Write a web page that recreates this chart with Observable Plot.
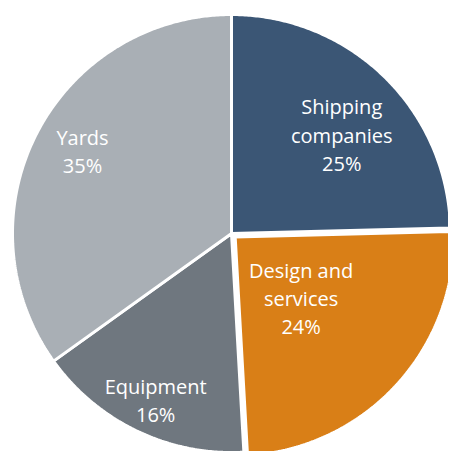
<!DOCTYPE html>
<html><head><meta charset="utf-8">
<script src="https://cdn.jsdelivr.net/npm/d3@7"></script>
<script src="https://cdn.jsdelivr.net/npm/@observablehq/plot@0.6"></script>
<style>html,body{margin:0;padding:0;background:#fff;overflow:hidden}</style>
</head><body><div id="chart"></div>
<script>
// ---- data ----
const categories = ["Shipping companies", "Design and services", "Equipment", "Yards"];
const shares = [24.6, 24.5, 16.0, 34.9];
const labelLines = ["Shipping\ncompanies\n25%", "Design and\nservices\n24%", "Equipment\n16%", "Yards\n35%"];
const colors = ["#3b5675", "#d97f17", "#6f777f", "#a9afb5"];

// ---- layout ----
const W = 449, H = 452;
const cx = 231, cy = 233, R = 219;
const explode = [0, 5, 0, 0];
// label placement: [angle offset from slice middle (deg), radius fraction]
const labelPlace = [[3.5, 0.68], [-0.3, 0.43], [-0.9, 0.83], [2.1, 0.78]];

const arcs = d3.pie().sort(null).value(d => d)(shares);
const pt = (a, r, dx = 0, dy = 0) => [cx + dx + r * Math.sin(a), cy + dy - r * Math.cos(a)];

const features = arcs.map((a, i) => {
  const mid = (a.startAngle + a.endAngle) / 2;
  const dx = explode[i] * Math.sin(mid), dy = -explode[i] * Math.cos(mid);
  const n = Math.max(2, Math.ceil((a.endAngle - a.startAngle) / (Math.PI / 360)));
  const ring = [[cx + dx, cy + dy]];
  for (let k = 0; k <= n; k++) ring.push(pt(a.startAngle + (a.endAngle - a.startAngle) * k / n, R, dx, dy));
  ring.push([cx + dx, cy + dy]);
  return {type: "Feature", properties: {name: categories[i], color: colors[i]}, geometry: {type: "Polygon", coordinates: [ring]}};
});

const labels = arcs.map((a, i) => {
  const mid = (a.startAngle + a.endAngle) / 2 + labelPlace[i][0] * Math.PI / 180;
  const [x, y] = pt(mid, R * labelPlace[i][1]);
  return {x, y, text: labelLines[i]};
});

const chart = Plot.plot({
  width: W, height: H,
  margin: 0,
  style: {background: "#fff", fontFamily: "'Open Sans', sans-serif"},
  projection: {type: "identity", domain: {type: "MultiPoint", coordinates: [[0, 0], [W, H]]}, inset: 0},
  marks: [
    Plot.geo(features, {fill: d => d.properties.color, stroke: "#fff", strokeWidth: 3, strokeLinejoin: "miter"}),
    Plot.text(labels, {x: "x", y: "y", text: "text", fill: "#fff", fontSize: 20, lineHeight: 1.42})
  ]
});
document.getElementById("chart").appendChild(chart);
</script>
</body></html>
